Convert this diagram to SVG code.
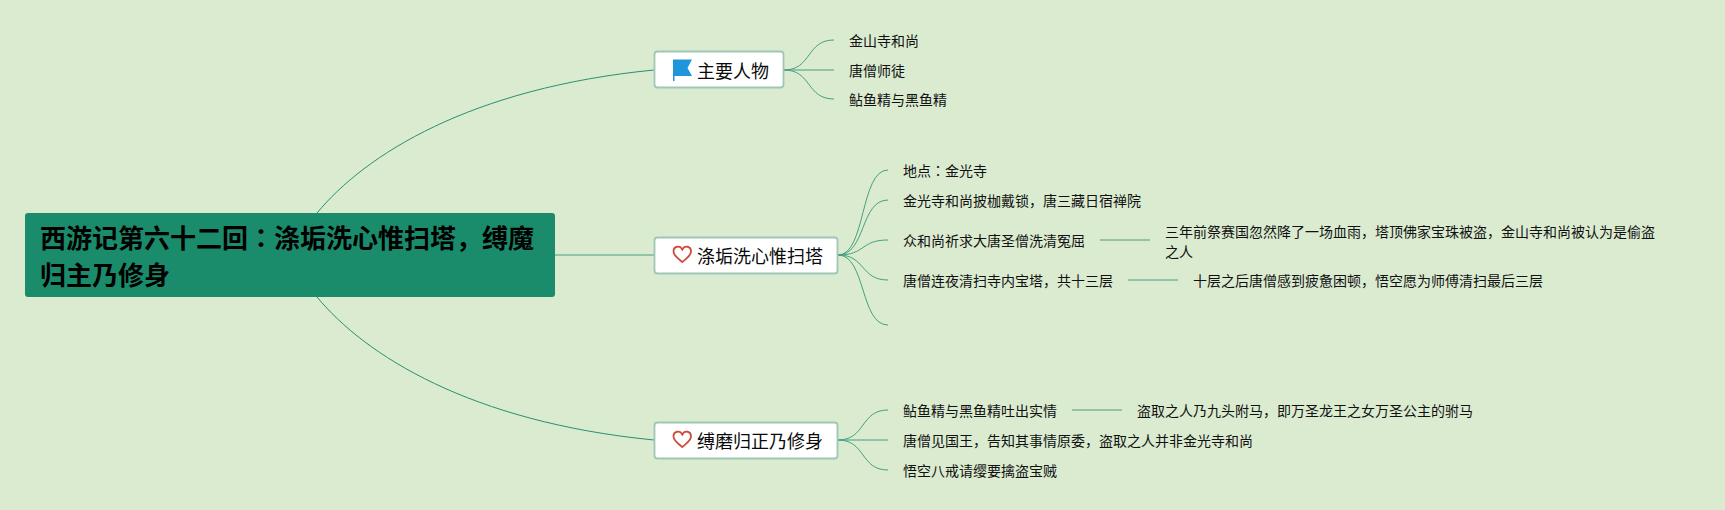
<svg xmlns="http://www.w3.org/2000/svg" width="1725" height="510" viewBox="0 0 1725 510">
<style>
text{font-family:"Noto Sans CJK SC","Liberation Sans",sans-serif;fill:#111}
.leaf{font-size:14px}
.topic{font-size:18px;fill:#0a0a0a}
.root{font-size:26px;font-weight:700;fill:#000}
.jp{font-family:"Noto Sans CJK JP","Liberation Sans",sans-serif}
.box{fill:#fff;stroke:#a0c6b5;stroke-width:1.800}
.c{fill:none;stroke:#45a07e;stroke-width:1}
.m{fill:none;stroke:#2a8f70;stroke-width:1}
.heart{fill:none;stroke:#d04a3c;stroke-width:1.800}
</style>
<defs>
<path id="heart" d="M682.300 262C678 258.500 673.500 255.500 673.500 251.500C673.500 246 680 245 682.300 249.500C684.600 245 691 246 691 251.500C691 255.500 686.500 258.500 682.300 262Z"/>
</defs>
<rect width="1725" height="510" fill="#daebd0"/>
<g id="connectors">
<path class="m" d="M317 213C365 155 470 88 654 70"/>
<path class="m" d="M317 297C365 355 470 422 654 440"/>
<path class="c" d="M555 255H654"/>
<path class="c" d="M784 70C812 70 806 40 834 40"/>
<path class="c" d="M784 70H834"/>
<path class="c" d="M784 70C812 70 806 99 834 99"/>
<path class="c" d="M838 255C866 255 860 170 888 170"/>
<path class="c" d="M838 255C866 255 860 200 888 200"/>
<path class="c" d="M838 255C866 255 860 240 888 240"/>
<path class="c" d="M838 255C866 255 860 280 888 280"/>
<path class="c" d="M838 255C866 255 860 325 888 325"/>
<path class="c" d="M1100 240H1150"/>
<path class="c" d="M1128 280H1178"/>
<path class="c" d="M838 440C866 440 860 410 888 410"/>
<path class="c" d="M838 440H888"/>
<path class="c" d="M838 440C866 440 860 470 888 470"/>
<path class="c" d="M1072 410H1122"/>
</g>
<g id="root">
<rect x="25" y="213" width="530" height="84" rx="3" fill="#1a8c6c"/>
<text class="root" x="40" y="248">西游记第六十二回<tspan class="jp">：</tspan>涤垢洗心惟扫塔，缚魔</text>
<text class="root" x="40" y="285">归主乃修身</text>
</g>
<g id="t1">
<rect class="box" x="654.500" y="51.500" width="129" height="36" rx="3"/>
<path fill="#1f95dc" d="M673 59.500H692L687.500 68L692 76H674.500V81H673Z"/>
<text class="topic" x="697" y="78">主要人物</text>
</g>
<g id="t1a"><text class="leaf" x="849" y="46">金山寺和尚</text></g>
<g id="t1b"><text class="leaf" x="849" y="76">唐僧师徒</text></g>
<g id="t1c"><text class="leaf" x="849" y="105">鲇鱼精与黑鱼精</text></g>
<g id="t2">
<rect class="box" x="654.500" y="237.500" width="183" height="36" rx="3"/>
<use class="heart" href="#heart"/>
<text class="topic" x="697" y="263">涤垢洗心惟扫塔</text>
</g>
<g id="t2a"><text class="leaf" x="903" y="176">地点<tspan class="jp">：</tspan>金光寺</text></g>
<g id="t2b"><text class="leaf" x="903" y="206">金光寺和尚披枷戴锁，唐三藏日宿禅院</text></g>
<g id="t2c"><text class="leaf" x="903" y="246">众和尚祈求大唐圣僧洗清冤屈</text></g>
<g id="t2c1">
<text class="leaf" x="1165" y="237">三年前祭赛国忽然降了一场血雨，塔顶佛家宝珠被盗，金山寺和尚被认为是偷盗</text>
<text class="leaf" x="1165" y="257">之人</text>
</g>
<g id="t2d"><text class="leaf" x="903" y="286">唐僧连夜清扫寺内宝塔，共十三层</text></g>
<g id="t2d1"><text class="leaf" x="1193" y="286">十层之后唐僧感到疲惫困顿，悟空愿为师傅清扫最后三层</text></g>
<g id="t3">
<rect class="box" x="654.500" y="422.500" width="183" height="36" rx="3"/>
<use class="heart" href="#heart" y="185"/>
<text class="topic" x="697" y="448">缚磨归正乃修身</text>
</g>
<g id="t3a"><text class="leaf" x="903" y="416">鲇鱼精与黑鱼精吐出实情</text></g>
<g id="t3a1"><text class="leaf" x="1137" y="416">盗取之人乃九头附马，即万圣龙王之女万圣公主的驸马</text></g>
<g id="t3b"><text class="leaf" x="903" y="446">唐僧见国王，告知其事情原委，盗取之人并非金光寺和尚</text></g>
<g id="t3c"><text class="leaf" x="903" y="476">悟空八戒请缨要擒盗宝贼</text></g>
</svg>
